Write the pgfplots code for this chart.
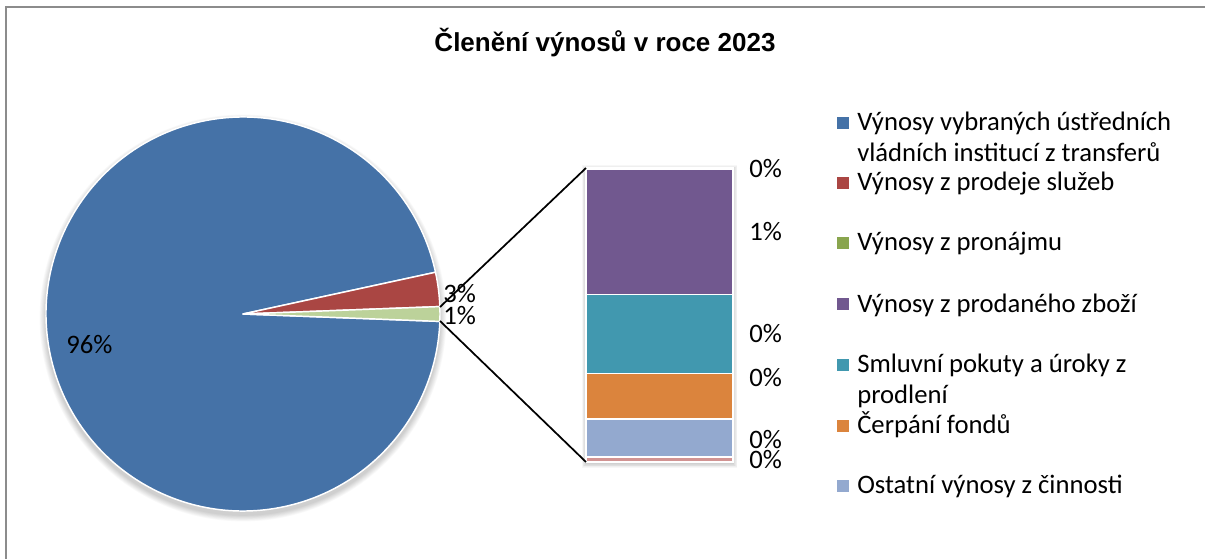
\documentclass[border=0pt]{standalone}
\usepackage{pgfplots}
\pgfplotsset{compat=1.18}
\usepackage{pgfplotstable}
\usepackage{fontspec}
\setmainfont{Carlito}
\newfontfamily\titlefont{Liberation Sans}
\definecolor{cblue}{HTML}{4572A7}
\definecolor{cred}{HTML}{AA4643}
\definecolor{cgreen}{HTML}{89A54E}
\definecolor{cgreenlight}{HTML}{BCD29A}
\definecolor{cpurple}{HTML}{71588F}
\definecolor{cteal}{HTML}{4198AF}
\definecolor{corange}{HTML}{DB843D}
\definecolor{clblue}{HTML}{93A9CF}
\definecolor{cpink}{HTML}{D19392}
\definecolor{framegray}{HTML}{8C8C8C}

% pie: percent of total revenue
\pgfplotstableread{
name value
blue 96.0
red 2.8
other 1.2
}\piedata
% bar (breakdown of "other"), bottom to top
\pgfplotstableread{
x pink lblue orange teal purple top
0 0.020 0.156 0.186 0.322 0.512 0.004
}\bardata

\newcommand\lab{\fontsize{20pt}{23.25pt}\selectfont}

\begin{document}
\begin{tikzpicture}[x=0.75pt,y=-0.75pt]
\useasboundingbox (0,0) rectangle (1205,559);
\fill[white] (0,0) rectangle (1205,559);
\draw[color=framegray, line width=1.5pt] (6.3,559) -- (6.3,7) -- (1205,7);

\pgfplotstablegetelem{0}{value}\of\piedata \let\vblue\pgfplotsretval
\pgfplotstablegetelem{1}{value}\of\piedata \let\vred\pgfplotsretval
\pgfplotstablegetelem{2}{value}\of\piedata \let\vother\pgfplotsretval
\pgfmathsetmacro\aA{-\vother*1.8}
\pgfmathsetmacro\aB{\aA+\vother*3.6}
\pgfmathsetmacro\aC{\aB+\vred*3.6}
\pgfmathsetmacro\aD{\aC+\vblue*3.6}

\coordinate (pc) at (243,314);
\coordinate (bsw) at (586,462);

% soft shadow behind the bar
\foreach \i in {1,...,6}{
  \fill[black, opacity=0.03] (586-\i*0.7,168-\i*0.7+1.5) rectangle (733+\i*0.7,462+\i*0.7+1.5);
}

% pie
\begin{axis}[at={(pc)}, anchor=center, scale only axis, width=295.5pt, height=295.5pt,
  xmin=-1, xmax=1, ymin=-1, ymax=1, hide axis, clip=false]
\pgfplotsinvokeforeach{1,...,8}{
  \fill[black, opacity=0.025] ([yshift=-3pt]axis cs:0,0) circle[radius=147.75pt+#1*0.6pt];
}
\fill[cblue, draw=white, line width=1.1pt, line join=round] (axis cs:0,0) -- ++(\aC:147.75pt)
  arc[start angle=\aC, end angle=\aD, radius=147.75pt] -- cycle;
\fill[cred, draw=white, line width=1.1pt, line join=round] (axis cs:0,0) -- ++(\aB:147.75pt)
  arc[start angle=\aB, end angle=\aC, radius=147.75pt] -- cycle;
\fill[cgreenlight, draw=white, line width=1.1pt, line join=round] (axis cs:0,0) -- ++(\aA:147.75pt)
  arc[start angle=\aA, end angle=\aB, radius=147.75pt] -- cycle;
\end{axis}

% bar of pie
\begin{axis}[at={(bsw)}, anchor=south west, scale only axis, width=110.25pt, height=220.5pt,
  xmin=-0.5, xmax=0.5, ymin=0, ymax=1.2, hide axis, clip=false,
  ybar stacked, bar width=110.25pt]
\addplot[fill=cpink, draw=white, line width=0.9pt] table[x=x, y=pink]{\bardata};
\addplot[fill=clblue, draw=white, line width=1.1pt] table[x=x, y=lblue]{\bardata};
\addplot[fill=corange, draw=white, line width=1.1pt] table[x=x, y=orange]{\bardata};
\addplot[fill=cteal, draw=white, line width=1.1pt] table[x=x, y=teal]{\bardata};
\addplot[fill=cpurple, draw=white, line width=1.1pt] table[x=x, y=purple]{\bardata};
\addplot[fill=cgreen, draw=white, line width=1.1pt] table[x=x, y=top]{\bardata};
\end{axis}

% connector lines
\draw[black, line width=1.3pt] (440,307) -- (586,168);
\draw[black, line width=1.3pt] (440,321) -- (586,462);

% title
\node[anchor=base, inner sep=0] at (605,52) {\titlefont\bfseries\fontsize{19.5pt}{23pt}\selectfont Členění výnosů v roce 2023};

% pie labels
\node[anchor=base, inner sep=0] at (89.5,353) {\lab 96\%};
\node[anchor=base west, inner sep=0] at (443,302) {\lab 3\%};
\node[anchor=base west, inner sep=0] at (443,325) {\lab 1\%};

% bar labels
\node[anchor=base west, inner sep=0] at (749,178) {\lab 0\%};
\node[anchor=base west, inner sep=0] at (749,241) {\lab 1\%};
\node[anchor=base west, inner sep=0] at (749,342) {\lab 0\%};
\node[anchor=base west, inner sep=0] at (749,386) {\lab 0\%};
\node[anchor=base west, inner sep=0] at (749,448) {\lab 0\%};
\node[anchor=base west, inner sep=0] at (749,468) {\lab 0\%};

% legend
\fill[cblue] (837,117) rectangle (849,129);
\node[anchor=base west, inner sep=0] at (857,130.5) {\lab Výnosy vybraných ústředních};
\node[anchor=base west, inner sep=0] at (857,161.5) {\lab vládních institucí z transferů};
\fill[cred] (837,177.5) rectangle (849,189.5);
\node[anchor=base west, inner sep=0] at (857,191) {\lab Výnosy z prodeje služeb};
\fill[cgreen] (837,237.5) rectangle (849,249.5);
\node[anchor=base west, inner sep=0] at (857,251) {\lab Výnosy z pronájmu};
\fill[cpurple] (837,298.5) rectangle (849,310.5);
\node[anchor=base west, inner sep=0] at (857,312) {\lab Výnosy z prodaného zboží};
\fill[cteal] (837,359) rectangle (849,371);
\node[anchor=base west, inner sep=0] at (857,372.5) {\lab Smluvní pokuty a úroky z};
\node[anchor=base west, inner sep=0] at (857,403.5) {\lab prodlení};
\fill[corange] (837,419.5) rectangle (849,431.5);
\node[anchor=base west, inner sep=0] at (857,433) {\lab Čerpání fondů};
\fill[clblue] (837,480) rectangle (849,492);
\node[anchor=base west, inner sep=0] at (857,493.5) {\lab Ostatní výnosy z činnosti};
\end{tikzpicture}
\end{document}
